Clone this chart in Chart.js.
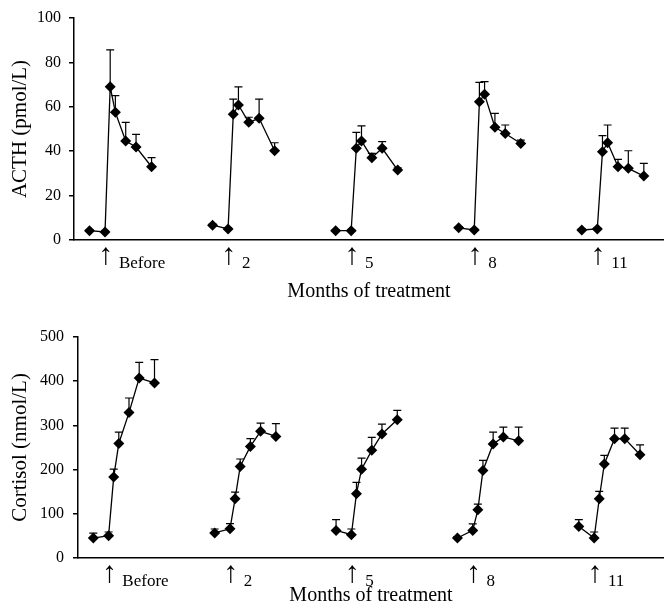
<!DOCTYPE html>
<html><head><meta charset="utf-8">
<script src="https://cdn.jsdelivr.net/npm/chart.js@4.4.0/dist/chart.umd.min.js"></script>
<style>
html,body{margin:0;padding:0;background:#fff;}
canvas{display:block;}
</style></head>
<body>
<canvas id="acth" width="664" height="310"></canvas>
<canvas id="cortisol" width="664" height="298"></canvas>
<script>
// ---- data ----
const groups = ['Before', '2', '5', '8', '11'];          // months of treatment
const times = [-30, 0, 10, 20, 40, 60, 90];             // minutes relative to stimulation

const acthBefore = [4.2, 3.6, 69.0, 57.5, 44.6, 41.9, 33.0];
const acthM2     = [6.7, 5.0, 56.6, 60.8, 53.0, 54.8, 40.2];
const acthM5     = [4.2, 4.2, 41.3, 44.6, 37.1, 41.3, 31.5];
const acthM8     = [5.5, 4.5, 62.3, 65.6, 50.8, 48.0, 43.5];
const acthM11    = [4.5, 5.0, 39.8, 43.8, 33.0, 32.3, 28.8];

const acthErrBefore = [0.5, 0.5, 16.6, 7.5, 8.4, 5.7, 4.1];
const acthErrM2     = [0.5, 0.5, 6.9, 8.2, 2.3, 8.7, 3.6];
const acthErrM5     = [0.5, 0.5, 7.2, 6.8, 1.9, 3.0, 1.0];
const acthErrM8     = [0.5, 0.5, 8.7, 5.7, 6.2, 3.8, 1.5];
const acthErrM11    = [0.5, 0.5, 7.2, 8.0, 3.3, 7.9, 5.7];

const cortBefore = [45, 50.5, 183, 259, 329, 407, 396];
const cortM2     = [56.6, 66, 134, 207, 252.5, 286.5, 275];
const cortM5     = [62.5, 52.7, 145.5, 201, 243.5, 280.5, 313];
const cortM8     = [45.2, 62.5, 109, 198, 258, 274, 265];
const cortM11    = [71.5, 45.2, 134, 212.7, 270, 270, 233.7];

const cortErrBefore = [11.5, 8.3, 18, 26, 33, 35.5, 52.6];
const cortErrM2     = [9, 11.6, 15, 17, 17.5, 18.5, 29];
const cortErrM5     = [24.2, 12.9, 25.5, 25, 29.5, 22.5, 21];
const cortErrM8     = [3, 14.5, 13, 23, 27, 22, 31];
const cortErrM11    = [15.2, 13.6, 16.7, 19.3, 24, 24, 22.3];

const acthTicks = [0, 20, 40, 60, 80, 100];
const cortTicks = [0, 100, 200, 300, 400, 500];

// ---- layout constants ----
const GROUP_GAP = 238;
const FONT = "'Liberation Serif', 'Times New Roman', serif";

const errorBars = {
  id: 'errorBars',
  beforeDatasetsDraw(chart) {
    const ctx = chart.ctx, xs = chart.scales.x, ys = chart.scales.y;
    ctx.save();
    ctx.strokeStyle = '#000';
    ctx.lineWidth = 1.2;
    chart.data.datasets.forEach(ds => {
      ds.data.forEach((p, i) => {
        const e = ds.errors[i];
        if (!e) return;
        const x = xs.getPixelForValue(p.x);
        const y0 = ys.getPixelForValue(p.y);
        const y1 = ys.getPixelForValue(p.y + e);
        ctx.beginPath();
        ctx.moveTo(x, y0); ctx.lineTo(x, y1);
        ctx.moveTo(x - 4, y1); ctx.lineTo(x + 4, y1);
        ctx.stroke();
      });
    });
    ctx.restore();
  }
};

function makeChart(id, means, errs, yTicks, yTitle, o) {
  const datasets = means.map((m, g) => ({
    data: m.map((v, i) => ({ x: g * GROUP_GAP + times[i], y: v })),
    errors: errs[g],
    borderColor: '#000',
    backgroundColor: '#000',
    borderWidth: 1.3,
    pointStyle: 'rectRot',
    pointRadius: 5.5,
    pointBorderWidth: 0,
    tension: 0,
    fill: false
  }));
  const tickDefs = [];
  groups.forEach((g, i) => {
    tickDefs.push({ value: i * GROUP_GAP - 13, label: '\u2191', arrow: true });
    tickDefs.push({ value: i * GROUP_GAP + 27, label: g, arrow: false });
  });
  return new Chart(document.getElementById(id), {
    type: 'line',
    data: { datasets },
    options: {
      responsive: false,
      animation: false,
      layout: { autoPadding: false, padding: { top: o.padTop, left: 0, right: 0, bottom: 0 } },
      plugins: { legend: { display: false }, tooltip: { enabled: false } },
      scales: {
        x: {
          type: 'linear',
          min: -60,
          max: o.xMax,
          grid: { display: false, drawTicks: false },
          border: { display: true, color: '#000', width: 1.5 },
          afterBuildTicks(s) { s.ticks = tickDefs.map(t => ({ value: t.value })); },
          afterFit(s) { s.height = o.xHeight; s.paddingLeft = 0; s.paddingRight = 0; },
          ticks: {
            autoSkip: false,
            maxRotation: 0,
            minRotation: 0,
            align: 'start',
            padding: 13,
            color: '#000',
            callback: (v, i) => tickDefs[i].label,
            font: (c) => (tickDefs[c.index] && tickDefs[c.index].arrow)
              ? { family: FONT, size: 30, lineHeight: 0.2 }
              : { family: FONT, size: 17 }
          },
          title: {
            display: true,
            text: 'Months of treatment',
            color: '#000',
            font: { family: FONT, size: 20 },
            padding: { top: 0, bottom: o.xTitlePad }
          }
        },
        y: {
          min: yTicks[0],
          max: yTicks[yTicks.length - 1],
          afterBuildTicks(s) { s.ticks = yTicks.map(v => ({ value: v })); },
          afterFit(s) { s.width = o.yWidth; },
          grid: { drawOnChartArea: false, drawTicks: true, tickLength: 5, color: '#000', lineWidth: 1.5 },
          border: { display: true, color: '#000', width: 1.5 },
          ticks: { color: '#000', padding: o.yTickPad, font: { family: FONT, size: 16 } },
          title: {
            display: true,
            text: yTitle,
            color: '#000',
            font: { family: FONT, size: 21 },
            padding: { top: 8, bottom: 0 }
          }
        }
      }
    },
    plugins: [errorBars]
  });
}

makeChart('acth',
  [acthBefore, acthM2, acthM5, acthM8, acthM11],
  [acthErrBefore, acthErrM2, acthErrM5, acthErrM8, acthErrM11],
  acthTicks, 'ACTH (pmol/L)',
  { padTop: 18, xMax: 1081, xHeight: 70, xTitlePad: 6, yWidth: 74, yTickPad: 8 });

makeChart('cortisol',
  [cortBefore, cortM2, cortM5, cortM8, cortM11],
  [cortErrBefore, cortErrM2, cortErrM5, cortErrM8, cortErrM11],
  cortTicks, 'Cortisol (nmol/L)',
  { padTop: 27, xMax: 1089, xHeight: 50, xTitlePad: 0, yWidth: 78, yTickPad: 9 });
</script>
</body></html>
